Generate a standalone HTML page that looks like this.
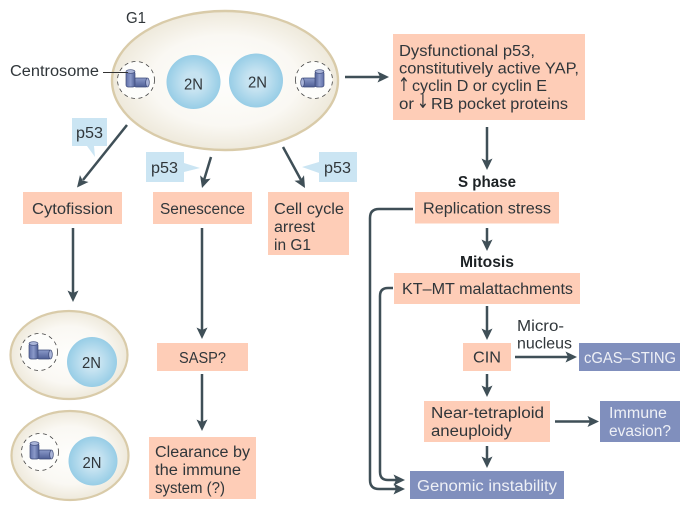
<!DOCTYPE html>
<html><head><meta charset="utf-8"><style>
html,body{margin:0;padding:0;background:#fff}
svg{display:block}
text{font-family:"Liberation Sans",sans-serif;font-size:15.5px;fill:#30363a}
.w{fill:#eef0f6}
.b{font-weight:bold;fill:#1d2225}
.a{stroke:#3f4f57;stroke-width:2.5;fill:none}
.h{fill:#3f4f57}
.box{fill:#fecdb7}
.blue{fill:#808fbd}
.tag{fill:#cbe5f3}
.ar{font-family:"DejaVu Sans",sans-serif;font-size:19px}
</style></head><body>
<svg width="685" height="511" viewBox="0 0 685 511" xmlns="http://www.w3.org/2000/svg">
<defs>
<radialGradient id="cell" cx="50%" cy="50%" r="50%"><stop offset="0" stop-color="#fefefc"/><stop offset="0.65" stop-color="#faf8f3"/><stop offset="1" stop-color="#eee9db"/></radialGradient>
<radialGradient id="nuc" cx="50%" cy="50%" r="50%"><stop offset="0.35" stop-color="#c6e3f1"/><stop offset="1" stop-color="#97cde6"/></radialGradient>
<linearGradient id="cyl" x1="0" y1="0" x2="1" y2="0"><stop offset="0" stop-color="#5f6fa8"/><stop offset="0.5" stop-color="#8b9ac9"/><stop offset="1" stop-color="#4f5f96"/></linearGradient>
<linearGradient id="cylh" x1="0" y1="0" x2="0" y2="1"><stop offset="0" stop-color="#8b9ac9"/><stop offset="1" stop-color="#4f5f96"/></linearGradient>
<path id="ah" class="h" d="M0 0L-11.500 -5.500L-9 0L-11.500 5.500Z"/>
<g id="cL">
<circle cx="0" cy="0" r="18.500" fill="#fdfdfb" stroke="#444" stroke-width="0.8" stroke-dasharray="4 3.500"/>
<rect x="-2" y="-2" width="14" height="9" rx="2" fill="url(#cylh)" stroke="#3d4a78" stroke-width="0.7"/>
<ellipse cx="11.500" cy="2.500" rx="1.800" ry="4.500" fill="#a9b4d8" stroke="#3d4a78" stroke-width="0.7"/>
<rect x="-10" y="-8.500" width="9" height="15.500" rx="2" fill="url(#cyl)" stroke="#3d4a78" stroke-width="0.7"/>
<ellipse cx="-5.500" cy="-8.500" rx="4.500" ry="1.800" fill="#a9b4d8" stroke="#3d4a78" stroke-width="0.7"/>
</g>
</defs>

<!-- main cell -->
<ellipse cx="225" cy="80.500" rx="113" ry="69.500" fill="url(#cell)" stroke="#d9cba9" stroke-width="2.400"/>
<circle cx="193.500" cy="82" r="27" fill="url(#nuc)"/>
<circle cx="256" cy="80.500" r="27" fill="url(#nuc)"/>
<use href="#cL" x="136" y="80"/>
<use href="#cL" transform="translate(314 80) scale(-1 1)"/>
<line x1="103" y1="72.500" x2="128" y2="72.500" stroke="#333" stroke-width="0.9"/>
<text x="126" y="23" textLength="20" lengthAdjust="spacingAndGlyphs">G1</text>
<text x="10" y="76" textLength="89" lengthAdjust="spacingAndGlyphs">Centrosome</text>
<text x="184" y="89.500" textLength="19" lengthAdjust="spacingAndGlyphs">2N</text>
<text x="248" y="87.500" textLength="19" lengthAdjust="spacingAndGlyphs">2N</text>

<!-- p53 tags -->
<path class="tag" d="M72 118H107V146H94L95 157L87 146H72Z"/>
<path class="tag" d="M146 152H184V163L200 168L184 172V182H146Z"/>
<path class="tag" d="M319 152H357V182H319V173L302 167L319 162Z"/>
<text x="76" y="138" textLength="27" lengthAdjust="spacingAndGlyphs">p53</text>
<text x="151" y="173" textLength="27" lengthAdjust="spacingAndGlyphs">p53</text>
<text x="324" y="173" textLength="27" lengthAdjust="spacingAndGlyphs">p53</text>

<!-- left arrows -->
<line class="a" x1="127" y1="125" x2="83" y2="180"/>
<use href="#ah" transform="translate(77 187.500) rotate(129)"/>
<line class="a" x1="211" y1="157" x2="204" y2="180"/>
<use href="#ah" transform="translate(202 188) rotate(107)"/>
<line class="a" x1="283" y1="147" x2="301" y2="180"/>
<use href="#ah" transform="translate(305 188) rotate(60)"/>
<line class="a" x1="73" y1="228" x2="73" y2="295"/>
<use href="#ah" transform="translate(73 302) rotate(90)"/>
<line class="a" x1="202" y1="228" x2="202" y2="332"/>
<use href="#ah" transform="translate(202 339) rotate(90)"/>
<line class="a" x1="202" y1="374" x2="202" y2="424"/>
<use href="#ah" transform="translate(202 431) rotate(90)"/>

<!-- left boxes -->
<rect class="box" x="23" y="192" width="99" height="32"/>
<rect class="box" x="153" y="192" width="99" height="32"/>
<rect class="box" x="268" y="192" width="81" height="63"/>
<rect class="box" x="157" y="343" width="91" height="28"/>
<rect class="box" x="149" y="437" width="107" height="62"/>
<text x="32" y="214" textLength="81" lengthAdjust="spacingAndGlyphs">Cytofission</text>
<text x="160" y="214" textLength="85" lengthAdjust="spacingAndGlyphs">Senescence</text>
<text x="274" y="214" textLength="70" lengthAdjust="spacingAndGlyphs">Cell cycle</text>
<text x="274" y="232" textLength="41" lengthAdjust="spacingAndGlyphs">arrest</text>
<text x="274" y="250" textLength="37" lengthAdjust="spacingAndGlyphs">in G1</text>
<text x="179" y="363" textLength="47" lengthAdjust="spacingAndGlyphs">SASP?</text>
<text x="155" y="457" textLength="95" lengthAdjust="spacingAndGlyphs">Clearance by</text>
<text x="155" y="475" textLength="86" lengthAdjust="spacingAndGlyphs">the immune</text>
<text x="155" y="493" textLength="70" lengthAdjust="spacingAndGlyphs">system (?)</text>

<!-- small cells -->
<ellipse cx="69" cy="355" rx="58.500" ry="44" fill="url(#cell)" stroke="#d9cba9" stroke-width="2.200"/>
<circle cx="92" cy="362" r="25" fill="url(#nuc)"/>
<use href="#cL" x="39" y="352"/>
<text x="82" y="368" textLength="19" lengthAdjust="spacingAndGlyphs">2N</text>
<ellipse cx="70" cy="455.500" rx="58.500" ry="44.500" fill="url(#cell)" stroke="#d9cba9" stroke-width="2.200"/>
<circle cx="93" cy="461" r="24.500" fill="url(#nuc)"/>
<use href="#cL" x="40" y="452"/>
<text x="82.500" y="468" textLength="19" lengthAdjust="spacingAndGlyphs">2N</text>

<!-- right arrows -->
<line class="a" x1="345" y1="77" x2="381" y2="77"/>
<use href="#ah" transform="translate(389 77)"/>
<line class="a" x1="487" y1="127" x2="487" y2="163"/>
<use href="#ah" transform="translate(487 170) rotate(90)"/>
<line class="a" x1="487" y1="228" x2="487" y2="244"/>
<use href="#ah" transform="translate(487 251) rotate(90)"/>
<line class="a" x1="487" y1="306" x2="487" y2="333"/>
<use href="#ah" transform="translate(487 340) rotate(90)"/>
<line class="a" x1="487" y1="374" x2="487" y2="390"/>
<use href="#ah" transform="translate(487 397) rotate(90)"/>
<line class="a" x1="487" y1="446" x2="487" y2="461"/>
<use href="#ah" transform="translate(487 468) rotate(90)"/>
<line class="a" x1="515" y1="357" x2="570" y2="357"/>
<use href="#ah" transform="translate(577 357)"/>
<line class="a" x1="555" y1="421.500" x2="592" y2="421.500"/>
<use href="#ah" transform="translate(599 421.500)"/>
<path class="a" d="M413 209H379Q370 209 370 218V480Q370 489 379 489H398"/>
<use href="#ah" transform="translate(405 489)"/>
<path class="a" d="M393 288H388Q380 288 380 296V472Q380 480 388 480H398"/>
<use href="#ah" transform="translate(405 480)"/>

<!-- right boxes -->
<rect class="box" x="393" y="34" width="192" height="86"/>
<rect class="box" x="415" y="192" width="144" height="31.500"/>
<rect class="box" x="394" y="273" width="186" height="31"/>
<rect class="box" x="463" y="343" width="48" height="28"/>
<rect class="box" x="424" y="401" width="126" height="41"/>
<rect class="blue" x="410" y="471" width="154" height="28"/>
<rect class="blue" x="579" y="343" width="101" height="28"/>
<rect class="blue" x="600" y="401" width="80" height="41"/>

<text x="399" y="56" textLength="136" lengthAdjust="spacingAndGlyphs">Dysfunctional p53,</text>
<text x="399" y="73.500" textLength="180" lengthAdjust="spacingAndGlyphs">constitutively active YAP,</text>
<text class="ar" x="398" y="91" textLength="12" lengthAdjust="spacingAndGlyphs">↑</text>
<text x="412" y="91" textLength="135" lengthAdjust="spacingAndGlyphs">cyclin D or cyclin E</text>
<text x="399" y="109" textLength="15" lengthAdjust="spacingAndGlyphs">or</text>
<text class="ar" x="417" y="108" textLength="12" lengthAdjust="spacingAndGlyphs">↓</text>
<text x="431" y="109" textLength="137" lengthAdjust="spacingAndGlyphs">RB pocket proteins</text>
<text x="458" y="187" class="b" textLength="58" lengthAdjust="spacingAndGlyphs">S phase</text>
<text x="423" y="213.500" textLength="128" lengthAdjust="spacingAndGlyphs">Replication stress</text>
<text x="460" y="267" class="b" textLength="54" lengthAdjust="spacingAndGlyphs">Mitosis</text>
<text x="402" y="294" textLength="171" lengthAdjust="spacingAndGlyphs">KT–MT malattachments</text>
<text x="517" y="331" textLength="47" lengthAdjust="spacingAndGlyphs">Micro-</text>
<text x="517" y="348.500" textLength="55" lengthAdjust="spacingAndGlyphs">nucleus</text>
<text x="473" y="362.500" textLength="28" lengthAdjust="spacingAndGlyphs">CIN</text>
<text x="431" y="418" textLength="113" lengthAdjust="spacingAndGlyphs">Near-tetraploid</text>
<text x="431" y="436" textLength="81" lengthAdjust="spacingAndGlyphs">aneuploidy</text>
<text x="417" y="491" class="w" textLength="140" lengthAdjust="spacingAndGlyphs">Genomic instability</text>
<text x="584" y="363" class="w" textLength="92" lengthAdjust="spacingAndGlyphs">cGAS–STING</text>
<text x="609" y="418" class="w" textLength="58" lengthAdjust="spacingAndGlyphs">Immune</text>
<text x="609" y="436" class="w" textLength="62" lengthAdjust="spacingAndGlyphs">evasion?</text>
</svg>
</body></html>
